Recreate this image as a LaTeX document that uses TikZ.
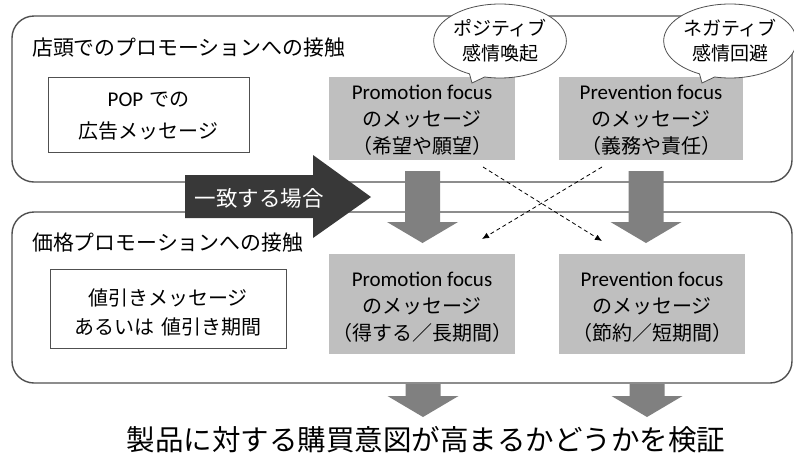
\documentclass[tikz,border=0pt]{standalone}
\usepackage{fontspec}
\setmainfont{Noto Sans CJK JP}
\newfontfamily\lat{Carlito}
\usetikzlibrary{shapes.callouts,arrows.meta}
\definecolor{boxgray}{HTML}{BFBFBF}
\definecolor{arrgray}{HTML}{808080}
\definecolor{darkarr}{HTML}{383838}
\definecolor{linegray}{HTML}{505050}
\tikzset{
  panel/.style={draw=linegray, line width=1.4pt, rounded corners=22pt},
  whitebox/.style={draw=linegray, line width=0.7pt, fill=white},
  graybox/.style={fill=boxgray},
  boxtext/.style={align=center, inner sep=0pt, font=\fontsize{20}{27}\selectfont},
  titletext/.style={anchor=west, inner sep=0pt, font=\fontsize{21}{24}\selectfont},
  bubble/.style={ellipse callout, draw=linegray, line width=0.8pt, fill=white,
    minimum width=128pt, minimum height=74pt, inner sep=0pt, align=center,
    callout pointer arc=14, font=\fontsize{19}{25}\selectfont},
  dasharr/.style={dash pattern=on 4pt off 3pt, line width=0.8pt, -{Latex[length=7pt,width=6pt]}},
  downarr/.pic={\fill[arrgray] (-17.5,0) -- (17.5,0) -- (17.5,#1) -- (35.5,#1) -- (0,#1+21) -- (-35.5,#1) -- (-17.5,#1) -- cycle;},
}
\begin{document}
\begin{tikzpicture}[x=1pt,y=-1pt]
\useasboundingbox (0,0) rectangle (794,464);
\fill[white] (0,0) rectangle (794,464);
% panels
\draw[panel] (12,16) rectangle (792,182);
\draw[panel] (12,212) rectangle (792,383);
\node[titletext] (t1) at (32,48) {\resizebox{313pt}{\height}{店頭でのプロモーションへの接触}};
\node[titletext] (t2) at (32,243) {\resizebox{271pt}{\height}{価格プロモーションへの接触}};
% white boxes
\draw[whitebox] (48,77) rectangle (249,152);
\node[boxtext, font=\fontsize{20}{32}\selectfont] (pop) at (148.5,116) {{\lat\fontsize{21}{32}\selectfont POP}\hspace{6pt}での\\広告メッセージ};
\draw[whitebox] (50,269) rectangle (286,348);
\node[boxtext, font=\fontsize{20}{29}\selectfont] (disc) at (168,312) {値引きメッセージ\\あるいは\hspace{7pt}値引き期間};
% gray boxes
\fill[graybox] (329,77) rectangle (515,160);
\fill[graybox] (559,77) rectangle (743,160);
\fill[graybox] (329,254) rectangle (515,354);
\fill[graybox] (559,254) rectangle (745,354);
\node[boxtext] (pa) at (422,120) {{\lat\fontsize{21}{27}\selectfont Promotion focus}\\のメッセージ\\（希望や願望）};
\node[boxtext] (pb) at (651,120) {{\lat\fontsize{21}{27}\selectfont Prevention focus}\\のメッセージ\\（義務や責任）};
\node[boxtext] (pc) at (422,307) {{\lat\fontsize{21}{27}\selectfont Promotion focus}\\のメッセージ\\（得する／長期間）};
\node[boxtext] (pd) at (652,307) {{\lat\fontsize{21}{27}\selectfont Prevention focus}\\のメッセージ\\（節約／短期間）};
% callouts
\coordinate (tipA) at (472,83);
\coordinate (tipB) at (702,83);
\node[bubble, callout absolute pointer={(tipA)}] (ba) at (500,41) {ポジティブ\\感情喚起};
\node[bubble, callout absolute pointer={(tipB)}] (bb) at (730,41) {ネガティブ\\感情回避};
% dark arrow
\fill[darkarr] (185,175) -- (313,175) -- (313,155) -- (371,197) -- (313,238) -- (313,218) -- (185,218) -- cycle;
\node[inner sep=0pt, text=white, font=\fontsize{21.5}{24}\selectfont] (match) at (259,198) {一致する場合};
% gray down arrows
\pic at (422.5,171) {downarr=51};
\pic at (646,171) {downarr=51};
\pic at (423,384) {downarr=12};
\pic at (647,384) {downarr=12};
% dashed crossing arrows
\coordinate (da1) at (483,167);
\coordinate (da2) at (602,241);
\coordinate (db1) at (602,167);
\coordinate (db2) at (482,239);
\draw[dasharr] (da1) -- (da2);
\draw[dasharr] (db1) -- (db2);
% conclusion
\node[inner sep=0pt, font=\fontsize{28.5}{32}\selectfont] (concl) at (426,440) {製品に対する購買意図が高まるかどうかを検証};
\end{tikzpicture}
\end{document}
